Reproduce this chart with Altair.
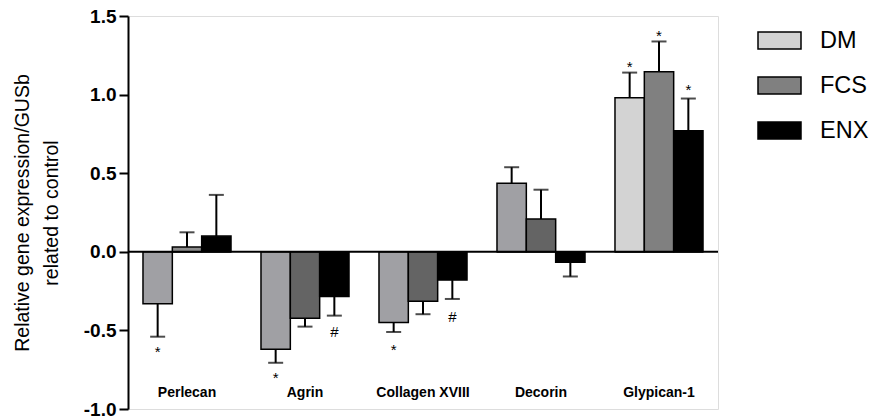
import altair as alt
import pandas as pd

genes = ["Perlecan", "Agrin", "Collagen XVIII", "Decorin", "Glypican-1"]
series = ["DM", "FCS", "ENX"]

dm_vals = [-0.33, -0.62, -0.45, 0.436, 0.98]
fcs_vals = [0.03, -0.423, -0.314, 0.208, 1.145]
enx_vals = [0.10, -0.285, -0.18, -0.066, 0.77]

dm_sd = [0.21, 0.086, 0.06, 0.102, 0.16]
fcs_sd = [0.094, 0.053, 0.083, 0.187, 0.193]
enx_sd = [0.262, 0.121, 0.12, 0.091, 0.205]

dm_fill = ["#a0a0a4", "#a0a0a4", "#a0a0a4", "#a0a0a4", "#d3d3d3"]
fcs_fill = ["#8c8c8c", "#646464", "#646464", "#646464", "#808080"]
enx_fill = ["#000000", "#000000", "#000000", "#000000", "#000000"]

legend_colors = ["#d3d3d3", "#808080", "#000000"]

ann_gene = ["Perlecan", "Agrin", "Agrin", "Collagen XVIII", "Collagen XVIII",
            "Glypican-1", "Glypican-1", "Glypican-1"]
ann_series = ["DM", "DM", "ENX", "DM", "ENX", "DM", "FCS", "ENX"]
ann_text = ["*", "*", "#", "*", "#", "*", "*", "*"]
ann_y = [-0.64, -0.80, -0.51, -0.625, -0.415, 1.175, 1.375, 1.03]

label_y = -0.9

rows = []
for s, vals, sds, fills in [("DM", dm_vals, dm_sd, dm_fill),
                            ("FCS", fcs_vals, fcs_sd, fcs_fill),
                            ("ENX", enx_vals, enx_sd, enx_fill)]:
    for g, v, sd, f in zip(genes, vals, sds, fills):
        rows.append({"gene": g, "series": s, "value": v, "sd": sd, "fill": f})
df = pd.DataFrame(rows)

ann_df = pd.DataFrame({"gene": ann_gene, "series": ann_series,
                       "label": ann_text, "y": ann_y})
lab_df = pd.DataFrame({"gene": genes, "y": [label_y] * len(genes)})

FONT = "Liberation Sans"

xenc = alt.X("gene:N", sort=genes, axis=None,
             scale=alt.Scale(paddingInner=0.254, paddingOuter=0.127))
xoff = alt.XOffset("series:N", sort=series,
                   scale=alt.Scale(paddingInner=0, paddingOuter=0))
yscale = alt.Scale(domain=[-1.0, 1.5], nice=False, zero=False)

yaxis = alt.Axis(
    values=[-1.0, -0.5, 0.0, 0.5, 1.0, 1.5],
    labelExpr="datum.value < 0 ? '-' + format(abs(datum.value), '.1f') : format(datum.value, '.1f')",
    labelFont=FONT, labelFontSize=19, labelFontWeight="bold", labelColor="black",
    labelPadding=3,
    tickSize=9, tickWidth=2, tickColor="black",
    domainWidth=2, domainColor="black", grid=False,
    title=["Relative gene expression/GUSb", "related to control"],
    titleFont=FONT, titleFontSize=19.5, titleFontWeight="normal", titleColor="black",
    titleLineHeight=29, titlePadding=22,
)

base = alt.Chart(df)

bars = base.mark_bar(stroke="black", strokeWidth=1.5).encode(
    x=xenc, xOffset=xoff,
    y=alt.Y("value:Q", scale=yscale, axis=yaxis),
    fill=alt.Fill("fill:N", scale=None),
)

ghost = base.mark_bar(stroke="black", strokeWidth=1.5).encode(
    x=xenc, xOffset=xoff,
    y=alt.datum(0), y2=alt.datum(0),
    color=alt.Color("series:N", sort=series,
                    scale=alt.Scale(domain=series, range=legend_colors),
                    legend=alt.Legend(
                        title=None, orient="none", legendX=629, legendY=2,
                        symbolType="M-1,-0.4H1V0.4H-1Z", symbolSize=1849,
                        symbolStrokeColor="black", symbolStrokeWidth=1.5,
                        symbolOpacity=1,
                        labelFont=FONT, labelFontSize=23.5, labelColor="black",
                        labelOffset=18, rowPadding=10, padding=0,
                    )),
)

err = base.transform_calculate(
    end="datum.value + (datum.value >= 0 ? datum.sd : -datum.sd)"
)
rules = err.mark_rule(color="black", strokeWidth=2).encode(
    x=xenc, xOffset=xoff, y=alt.Y("value:Q"), y2="end:Q")
caps = err.mark_tick(color="black", size=15, thickness=2).encode(
    x=xenc, xOffset=xoff, y=alt.Y("end:Q"))

zero = alt.Chart(pd.DataFrame({"z": [0]})).mark_rule(
    color="black", strokeWidth=2).encode(
    y=alt.Y("z:Q"), x=alt.value(0), x2=alt.value(590))

ann = alt.Chart(ann_df).mark_text(font=FONT, fontSize=15, color="black",
                                  baseline="middle").encode(
    x=xenc, xOffset=xoff, y=alt.Y("y:Q"), text="label:N")

labs = alt.Chart(lab_df).mark_text(font=FONT, fontSize=14, fontWeight="bold",
                                   color="black", baseline="middle").encode(
    x=xenc, y=alt.Y("y:Q"), text="gene:N")

chart = alt.layer(ghost, bars, rules, caps, zero, ann, labs).properties(
    width=590, height=393,
    autosize=alt.AutoSizeParams(type="none"),
    padding={"left": 120, "top": 8, "right": 151, "bottom": 10},
).configure_view(stroke=None).configure(background="white")

chart.save("out.html", embed_options={"renderer": "svg", "actions": False})
